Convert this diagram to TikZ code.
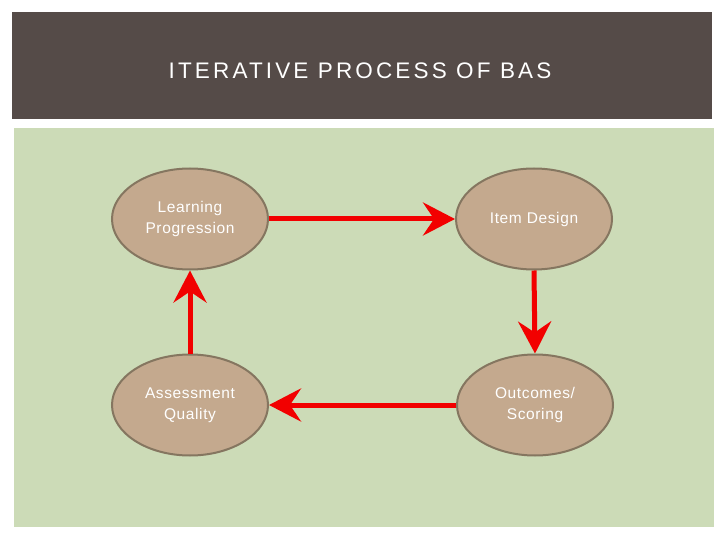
\documentclass[tikz,border=0pt]{standalone}
\usepackage{fontspec}
\setmainfont{Liberation Sans}
\usetikzlibrary{arrows.meta,shapes.geometric}
\definecolor{headbg}{HTML}{554B48}
\definecolor{greenbg}{HTML}{CCDBB7}
\definecolor{ellfill}{HTML}{C4A98E}
\definecolor{elldraw}{HTML}{857660}
\definecolor{arrred}{HTML}{F20000}
\begin{document}
\begin{tikzpicture}[x=1pt,y=-1pt,
  stage/.style={ellipse, draw=elldraw, line width=2pt, fill=ellfill, minimum width=156pt, minimum height=101pt, inner sep=0pt, text=white, align=center, font=\fontsize{15.5}{21}\selectfont\addfontfeatures{LetterSpace=4}},
  flow/.style={draw=arrred, line width=5pt, -{Stealth[length=32pt,width=33pt,inset=11pt]}}]
\useasboundingbox (0,0) rectangle (720,540);
\fill[white] (0,0) rectangle (720,540);
\fill[headbg] (12,12) rectangle (712,119);
\fill[greenbg] (14,128) rectangle (714,527);
\node[text=white, font=\fontsize{22.5}{26}\selectfont\addfontfeatures{LetterSpace=14}] (title) at (360,71) {ITERATIVE PROCESS OF BAS};
\node[stage] (lp) at (190,219) {Learning\\Progression};
\node[stage] (id) at (534,219) {Item Design};
\node[stage] (aq) at (190,405) {Assessment\\Quality};
\node[stage] (os) at (535,405) {Outcomes/\\Scoring};
\draw[flow] (lp.east) -- (id.west);
\draw[flow] (id.south) -- (os.north);
\draw[flow] (os.west) -- (aq.east);
\draw[flow] (aq.north) -- (lp.south);
\end{tikzpicture}
\end{document}
